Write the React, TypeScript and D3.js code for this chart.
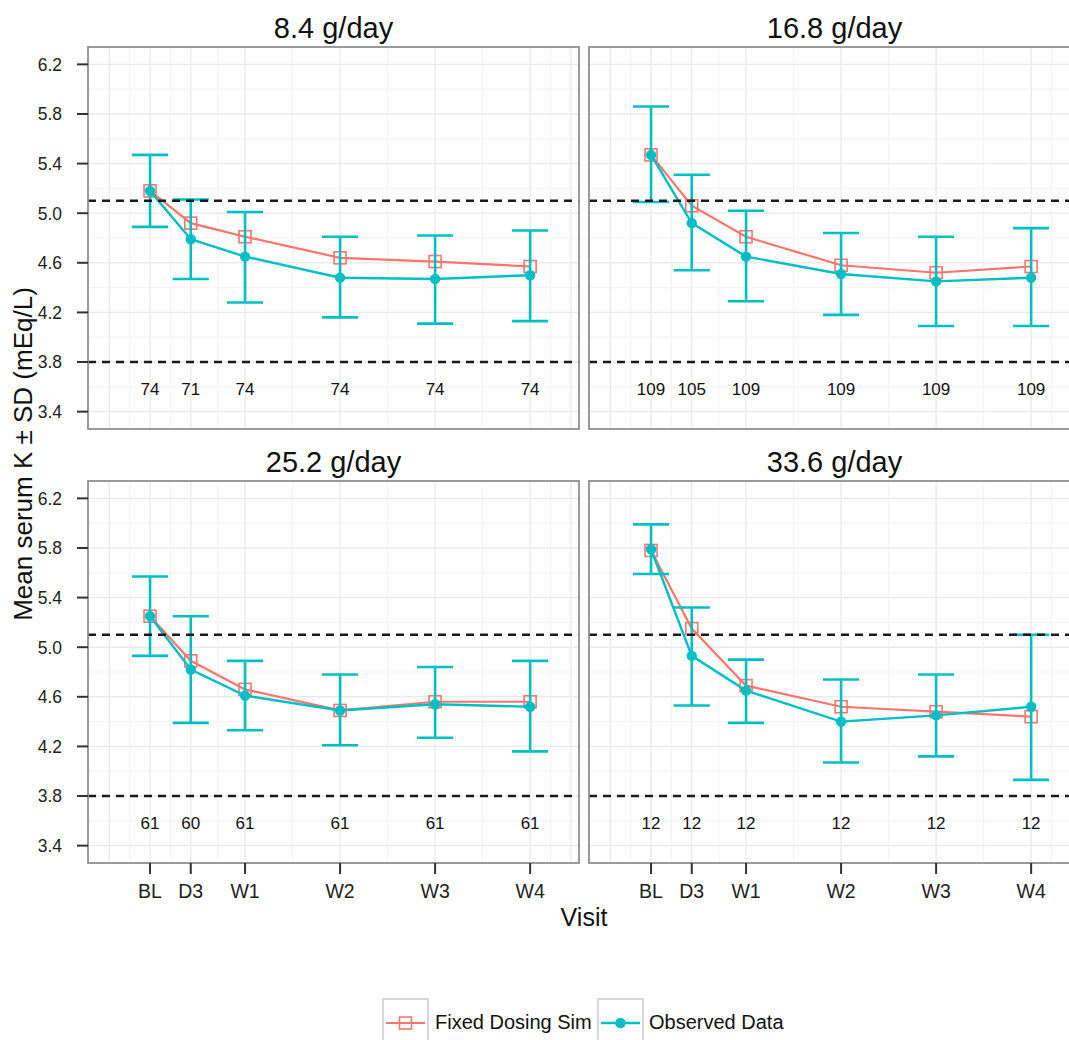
import React from "react";
import * as d3 from "d3";

// visits and their day on the x axis
const visits = ["BL", "D3", "W1", "W2", "W3", "W4"];
const visitDay = [0, 3, 7, 14, 21, 28];
const doses = ["8.4 g/day", "16.8 g/day", "25.2 g/day", "33.6 g/day"];

// observed mean and mean ± SD, one row per dose
const obsMean = [
  [5.18, 4.79, 4.65, 4.48, 4.47, 4.5],
  [5.47, 4.92, 4.65, 4.51, 4.45, 4.48],
  [5.25, 4.82, 4.61, 4.49, 4.54, 4.52],
  [5.79, 4.93, 4.65, 4.4, 4.45, 4.52],
];
const obsLow = [
  [4.89, 4.47, 4.28, 4.16, 4.11, 4.13],
  [5.09, 4.54, 4.29, 4.18, 4.09, 4.09],
  [4.93, 4.39, 4.33, 4.21, 4.27, 4.16],
  [5.59, 4.53, 4.39, 4.07, 4.12, 3.93],
];
const obsHigh = [
  [5.47, 5.11, 5.01, 4.81, 4.82, 4.86],
  [5.86, 5.31, 5.02, 4.84, 4.81, 4.88],
  [5.57, 5.25, 4.89, 4.78, 4.84, 4.89],
  [5.99, 5.32, 4.9, 4.74, 4.78, 5.1],
];
// fixed dosing simulation
const simMean = [
  [5.18, 4.92, 4.81, 4.64, 4.61, 4.57],
  [5.47, 5.06, 4.81, 4.58, 4.52, 4.57],
  [5.25, 4.89, 4.66, 4.49, 4.56, 4.56],
  [5.78, 5.15, 4.69, 4.52, 4.48, 4.44],
];
// number of subjects per visit
const nCount = [
  [74, 71, 74, 74, 74, 74],
  [109, 105, 109, 109, 109, 109],
  [61, 60, 61, 61, 61, 61],
  [12, 12, 12, 12, 12, 12],
];
const refLines = [5.1, 3.8];
const nLabelY = 3.6;

const yTicks = [3.4, 3.8, 4.2, 4.6, 5.0, 5.4, 5.8, 6.2];
const yMinor = [3.6, 4.0, 4.4, 4.8, 5.2, 5.6, 6.0];
const xGridMajor = [-3, 0, 3, 7, 14, 21, 28, 31];
const xGridMinor = [-1.5, 1.5, 5, 10.5, 17.5, 24.5, 29.5];

const simColor = "#F8766D";
const obsColor = "#00BFC4";
const font = "'Liberation Sans', Arial, sans-serif";

const App = () => {
  const panelW = 491,
    panelH = 382,
    panelX = [88, 589],
    panelY = [47, 481],
    capHalf = 1.33;

  const getX = d3.scaleLinear().domain([-4.57, 31.6]).range([0, panelW]);
  const getY = d3.scaleLinear().domain([3.26, 6.34]).range([panelH, 0]);

  const line = d3
    .line<number>()
    .x((d, i) => getX(visitDay[i]))
    .y((d) => getY(d));

  return (
    <svg
      width={1069}
      height={1040}
      style={{ position: "absolute", left: 0, top: 0, background: "#fff" }}
      fontFamily={font}
    >
      {doses.map((dose, p) => {
        const col = p % 2,
          row = Math.floor(p / 2);
        return (
          <g key={dose} transform={`translate(${panelX[col]},${panelY[row]})`}>
            <text
              x={panelW / 2}
              y={-9}
              textAnchor="middle"
              fontSize={29}
              fill="#111"
            >
              {dose}
            </text>
            <rect width={panelW} height={panelH} fill="#fff" />
            {yMinor.map((v) => (
              <line key={"ym" + v} x1={0} x2={panelW} y1={getY(v)} y2={getY(v)} stroke="#f5f5f5" strokeWidth={1.2} />
            ))}
            {xGridMinor.map((v) => (
              <line key={"xm" + v} y1={0} y2={panelH} x1={getX(v)} x2={getX(v)} stroke="#f5f5f5" strokeWidth={1.2} />
            ))}
            {yTicks.map((v) => (
              <line key={"y" + v} x1={0} x2={panelW} y1={getY(v)} y2={getY(v)} stroke="#ebebeb" strokeWidth={1.4} />
            ))}
            {xGridMajor.map((v) => (
              <line key={"x" + v} y1={0} y2={panelH} x1={getX(v)} x2={getX(v)} stroke="#ebebeb" strokeWidth={1.4} />
            ))}

            {/* simulation */}
            <path d={line(simMean[p]) || ""} fill="none" stroke={simColor} strokeWidth={2.2} />
            {simMean[p].map((v, i) => (
              <rect
                key={"s" + i}
                x={getX(visitDay[i]) - 6}
                y={getY(v) - 6}
                width={12}
                height={12}
                fill="none"
                stroke={simColor}
                strokeWidth={1.6}
              />
            ))}

            {/* observed */}
            {obsMean[p].map((v, i) => {
              const cx = getX(visitDay[i]);
              const x0 = getX(visitDay[i] - capHalf),
                x1 = getX(visitDay[i] + capHalf);
              return (
                <g key={"e" + i} stroke={obsColor} strokeWidth={2.6}>
                  <line x1={cx} x2={cx} y1={getY(obsLow[p][i])} y2={getY(obsHigh[p][i])} />
                  <line x1={x0} x2={x1} y1={getY(obsLow[p][i])} y2={getY(obsLow[p][i])} />
                  <line x1={x0} x2={x1} y1={getY(obsHigh[p][i])} y2={getY(obsHigh[p][i])} />
                </g>
              );
            })}
            <path d={line(obsMean[p]) || ""} fill="none" stroke={obsColor} strokeWidth={2.4} />
            {obsMean[p].map((v, i) => (
              <circle key={"o" + i} cx={getX(visitDay[i])} cy={getY(v)} r={5.2} fill={obsColor} />
            ))}

            {refLines.map((v) => (
              <line
                key={"r" + v}
                x1={0}
                x2={panelW}
                y1={getY(v)}
                y2={getY(v)}
                stroke="#1a1a1a"
                strokeWidth={2.4}
                strokeDasharray="8,6"
              />
            ))}

            {nCount[p].map((n, i) => (
              <text
                key={"n" + i}
                x={getX(visitDay[i])}
                y={getY(nLabelY) + 2}
                dy="0.35em"
                textAnchor="middle"
                fontSize={17}
                fill="#111"
              >
                {n}
              </text>
            ))}

            <rect width={panelW} height={panelH} fill="none" stroke="#8f8f8f" strokeWidth={1.8} />

            {col === 0 &&
              yTicks.map((v) => (
                <g key={"yt" + v} transform={`translate(0,${getY(v)})`}>
                  <line x1={-11} x2={0} stroke="#333" strokeWidth={2} />
                  <text x={-26} dy="0.36em" textAnchor="end" fontSize={17.5} fill="#222">
                    {v.toFixed(1)}
                  </text>
                </g>
              ))}
            {row === 1 &&
              visits.map((v, i) => (
                <g key={"xt" + v} transform={`translate(${getX(visitDay[i])},${panelH})`}>
                  <line y1={0} y2={11} stroke="#333" strokeWidth={2} />
                  <text y={35} textAnchor="middle" fontSize={19.5} fill="#222">
                    {v}
                  </text>
                </g>
              ))}
          </g>
        );
      })}

      <text
        transform="rotate(-90)"
        x={-454}
        y={32}
        textAnchor="middle"
        fontSize={26}
        fill="#111"
      >
        Mean serum K ± SD (mEq/L)
      </text>
      <text x={584} y={926} textAnchor="middle" fontSize={25} fill="#111">
        Visit
      </text>

      {/* legend */}
      <g transform="translate(383,999)">
        <rect width={45} height={48} fill="#fff" stroke="#cccccc" strokeWidth={1.5} />
        <line x1={3} x2={42} y1={24} y2={24} stroke={simColor} strokeWidth={2.2} />
        <rect x={16.5} y={18} width={12} height={12} fill="none" stroke={simColor} strokeWidth={1.6} />
        <text x={52} y={30} fontSize={20} fill="#111">
          Fixed Dosing Sim
        </text>
      </g>
      <g transform="translate(598,999)">
        <rect width={45} height={48} fill="#fff" stroke="#cccccc" strokeWidth={1.5} />
        <line x1={3} x2={42} y1={24} y2={24} stroke={obsColor} strokeWidth={2.4} />
        <circle cx={22.5} cy={24} r={5.2} fill={obsColor} />
        <text x={51} y={30} fontSize={20} fill="#111">
          Observed Data
        </text>
      </g>
    </svg>
  );
};

export default App;
